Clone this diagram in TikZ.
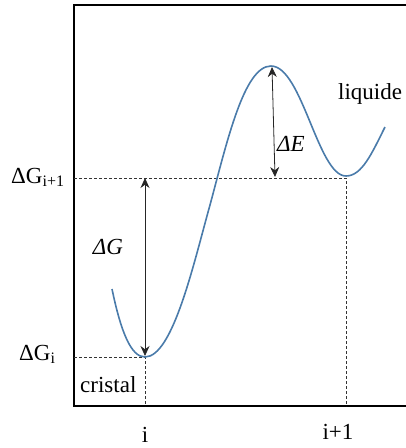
\documentclass[tikz,border=0pt]{standalone}
\usepackage{fontspec}
\setmainfont{Liberation Serif}
\usetikzlibrary{arrows.meta}
\definecolor{curveblue}{HTML}{4A7BAA}
\tikzset{
  axisline/.style={line width=2pt, black},
  guide/.style={line width=0.8pt, dash pattern=on 3pt off 2pt, black!80},
  dimarrow/.style={line width=0.8pt, black!85, {Stealth[length=10pt,width=9pt]}-{Stealth[length=10pt,width=9pt]}},
  energy/.style={line width=1.6pt, curveblue},
  lbl/.style={font=\fontsize{23}{27}\selectfont, inner sep=0pt}
}
\begin{document}
\begin{tikzpicture}[x=1pt,y=-1pt]
\useasboundingbox (0,0) rectangle (406,448);
% axes
\coordinate (tr) at (406,5);
\coordinate (tl) at (74,5);
\coordinate (bl) at (74,406);
\coordinate (br) at (406,406);
\draw[axisline] (tr) -- (tl) -- (bl) -- (br);
% key points
\coordinate (start) at (112,289);
\coordinate (minA) at (145,357);
\coordinate (infl) at (210,205);
\coordinate (maxP) at (271,66);
\coordinate (minB) at (346,176);
\coordinate (endP) at (385,127);
% guides
\coordinate (gA) at (74,357);
\coordinate (gB) at (74,178);
\coordinate (gBr) at (346,178);
\coordinate (fA) at (145,406);
\coordinate (fB) at (346,406);
\draw[guide] (gA) -- (minA) -- (fA);
\draw[guide] (gB) -- (gBr) -- (fB);
% curve
\draw[energy] (start) .. controls (121,332) and (131,357) .. (minA)
  .. controls (173,357) and (194,262) .. (infl)
  .. controls (227,142) and (244,66) .. (maxP)
  .. controls (302,66) and (318,176) .. (minB)
  .. controls (362,176) and (372,153) .. (endP);
% arrows
\coordinate (dGtop) at (145,178);
\coordinate (dGbot) at (145,356);
\draw[dimarrow] (dGtop) -- (dGbot);
\coordinate (dEtop) at (272,67);
\coordinate (dEbot) at (275,177);
\draw[dimarrow] (dEtop) -- (dEbot);
% labels
\node[lbl, anchor=base west] (lGB) at (11,183) {ΔG\textsubscript{\fontsize{16}{18}\selectfont i+1}};
\node[lbl, anchor=base west] (lGA) at (19,360) {ΔG\textsubscript{\fontsize{16}{18}\selectfont i}};
\node[lbl] (dG) at (108,247) {\textit{ΔG}};
\node[lbl] (dE) at (291,144) {\textit{ΔE}};
\node[lbl, anchor=base west] (liq) at (338,99) {liquide};
\node[lbl, anchor=base west] (cri) at (80,392) {cristal};
\node[lbl, anchor=base] (ti) at (145,442) {i};
\node[lbl, anchor=base] (ti1) at (338,439) {i+1};
\end{tikzpicture}
\end{document}
